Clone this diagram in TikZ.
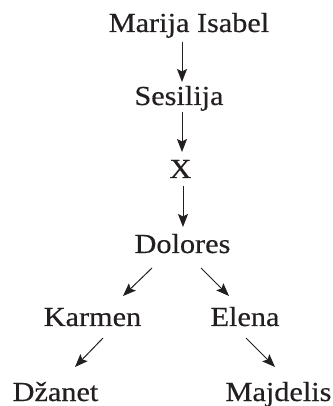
\documentclass[tikz,border=0pt]{standalone}
\usepackage{fontspec}
\setmainfont[FakeStretch=1.1,FakeBold=0.4]{Liberation Serif}
\usetikzlibrary{arrows.meta,calc}
\definecolor{ink}{HTML}{231F20}
\tikzset{
  person/.style={inner sep=0pt, anchor=base, text=ink, font=\fontsize{27.5}{30}\selectfont},
  arr/.style={draw=ink, line width=1pt, -{Stealth[length=13pt,width=10pt,inset=2.5pt]}}
}
\begin{document}
\begin{tikzpicture}[x=1pt,y=1pt]
\useasboundingbox (0,0) rectangle (332,406);
% family line, one name per generation
\node[person] (m)  at (189,374)   {Marija Isabel};
\node[person] (s)  at (179,301)   {Sesilija};
\node[person] (x)  at (180.5,228) {X};
\node[person] (d)  at (182.5,153) {Dolores};
\node[person] (k)  at (92.5,80)   {Karmen};
\node[person] (e)  at (245,80)    {Elena};
\node[person] (dz) at (55.5,5)    {Džanet};
\node[person] (mj) at (278.5,5)   {Majdelis};
% descent arrows
\draw[arr] ($(m.base)+(-7,-10)$)   -- ($(s.base)+(3,23)$);
\draw[arr] ($(s.base)+(3,-7)$)     -- ($(x.base)+(1.5,26)$);
\draw[arr] ($(x.base)+(2.5,-8)$)   -- ($(d.base)+(0.5,26)$);
\draw[arr] ($(d.base)+(-30.5,-15)$) -- ($(k.base)+(30.5,30)$);
\draw[arr] ($(d.base)+(18.5,-15)$) -- ($(e.base)+(-16,30)$);
\draw[arr] ($(k.base)+(10.5,-12)$) -- ($(dz.base)+(19.5,34)$);
\draw[arr] ($(e.base)+(1,-12)$)    -- ($(mj.base)+(-3.5,34)$);
\end{tikzpicture}
\end{document}
